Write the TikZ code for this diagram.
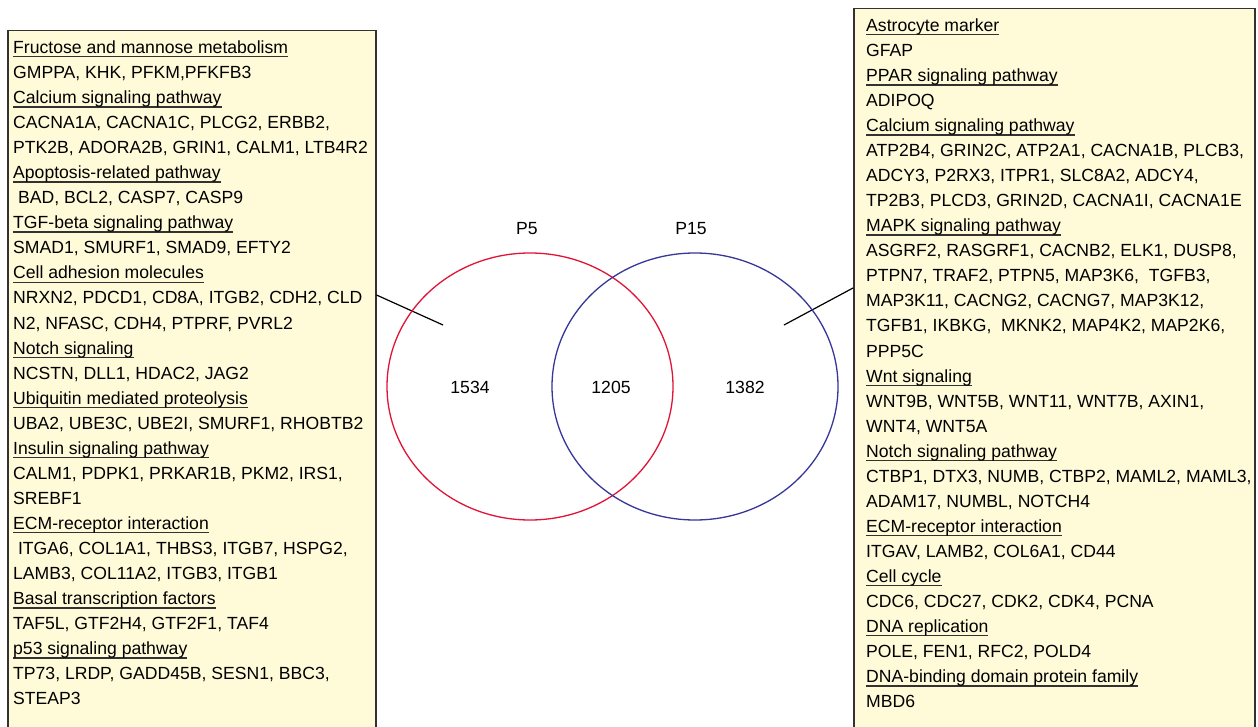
\documentclass[tikz,border=0pt]{standalone}
\usepackage{fontspec}
\setmainfont{Liberation Sans}
\usetikzlibrary{positioning,shapes.geometric}
\definecolor{boxfill}{RGB}{255,251,217}
\definecolor{boxline}{RGB}{50,50,50}
\definecolor{setred}{RGB}{225,20,55}
\definecolor{setblue}{RGB}{55,55,155}
% underlined pathway heading
\newcommand{\hd}[1]{\setbox0=\hbox{#1}\rlap{\color{boxline}\rule[-4pt]{\wd0}{1.4pt}}\box0}
\tikzset{
  panel/.style={draw=boxline, line width=1.5pt, fill=boxfill, inner sep=0pt, anchor=north west},
  item/.style={anchor=base west, inner sep=0pt, font=\fontsize{17.6}{25}\selectfont},
  vset/.style={ellipse, draw, line width=1.3pt, minimum width=286pt, minimum height=267pt, inner sep=0pt},
  num/.style={inner sep=0pt, font=\fontsize{17.6}{20}\selectfont},
  leader/.style={line width=1.2pt, black}
}

\begin{document}
\begin{tikzpicture}[x=1pt, y=-1pt]
  \useasboundingbox[fill=white] (0,0) rectangle (1258,727);
  % gene panels
  \node[panel, minimum width=368pt, minimum height=720pt] (leftbox) at (7,30) {};
  \node[panel, minimum width=401pt, minimum height=745pt] (rightbox) at (853,8) {};
  \foreach \t [count=\i] in {
      {\hd{Fructose and mannose metabolism}},
      {GMPPA, KHK, PFKM,PFKFB3},
      {\hd{Calcium signaling pathway}},
      {CACNA1A, CACNA1C, PLCG2, ERBB2,},
      {PTK2B, ADORA2B, GRIN1, CALM1, LTB4R2},
      {\hd{Apoptosis-related pathway}},
      {\ BAD, BCL2, CASP7, CASP9},
      {\hd{TGF-beta signaling pathway}},
      {SMAD1, SMURF1, SMAD9, EFTY2},
      {\hd{Cell adhesion molecules}},
      {NRXN2, PDCD1, CD8A, ITGB2, CDH2, CLD},
      {N2, NFASC, CDH4, PTPRF, PVRL2},
      {\hd{Notch signaling}},
      {NCSTN, DLL1, HDAC2, JAG2},
      {\hd{Ubiquitin mediated proteolysis}},
      {UBA2, UBE3C, UBE2I, SMURF1, RHOBTB2},
      {\hd{Insulin signaling pathway}},
      {CALM1, PDPK1, PRKAR1B, PKM2, IRS1,},
      {SREBF1},
      {\hd{ECM-receptor interaction}},
      {\ ITGA6, COL1A1, THBS3, ITGB7, HSPG2,},
      {LAMB3, COL11A2, ITGB3, ITGB1},
      {\hd{Basal transcription factors}},
      {TAF5L, GTF2H4, GTF2F1, TAF4},
      {\hd{p53 signaling pathway}},
      {TP73, LRDP, GADD45B, SESN1, BBC3,},
      {STEAP3}}
    \node[item] (lt\i) at (13, {53.5+25.05*(\i-1)}) {\t};
  \foreach \t [count=\i] in {
      {\hd{Astrocyte marker}},
      {GFAP},
      {\hd{PPAR signaling pathway}},
      {ADIPOQ},
      {\hd{Calcium signaling pathway}},
      {ATP2B4, GRIN2C, ATP2A1, CACNA1B, PLCB3,},
      {ADCY3, P2RX3, ITPR1, SLC8A2, ADCY4,},
      {TP2B3, PLCD3, GRIN2D, CACNA1I, CACNA1E},
      {\hd{MAPK signaling pathway}},
      {ASGRF2, RASGRF1, CACNB2, ELK1, DUSP8,},
      {PTPN7, TRAF2, PTPN5, MAP3K6, \ TGFB3,},
      {MAP3K11, CACNG2, CACNG7, MAP3K12,},
      {TGFB1, IKBKG, \ MKNK2, MAP4K2, MAP2K6,},
      {PPP5C},
      {\hd{Wnt signaling}},
      {WNT9B, WNT5B, WNT11, WNT7B, AXIN1,},
      {WNT4, WNT5A},
      {\hd{Notch signaling pathway}},
      {CTBP1, DTX3, NUMB, CTBP2, MAML2, MAML3,},
      {ADAM17, NUMBL, NOTCH4},
      {\hd{ECM-receptor interaction}},
      {ITGAV, LAMB2, COL6A1, CD44},
      {\hd{Cell cycle}},
      {CDC6, CDC27, CDK2, CDK4, PCNA},
      {\hd{DNA replication}},
      {POLE, FEN1, RFC2, POLD4},
      {\hd{DNA-binding domain protein family}},
      {MBD6}}
    \node[item] (rt\i) at (866, {31.5+25.04*(\i-1)}) {\t};
  % leader lines
  \coordinate (lroot) at (375,295);
  \coordinate (ltip) at (443,325);
  \coordinate (rroot) at (853,288);
  \coordinate (rtip) at (784,325);
  \draw[leader] (leftbox.east |- lroot) -- (ltip);
  \draw[leader] (rightbox.west |- rroot) -- (rtip);
  % venn
  \node[vset, draw=setred] (p5) at (530,386.5) {};
  \node[vset, draw=setblue] (p15) at (695,386.5) {};
  \node[num] (p5lbl) at (527,229) {P5};
  \node[num] (p15lbl) at (691,229) {P15};
  \node[num] (only5) at (470,387) {1534};
  \node[num] (both) at (611,387) {1205};
  \node[num] (only15) at (745,387) {1382};
\end{tikzpicture}
\end{document}
